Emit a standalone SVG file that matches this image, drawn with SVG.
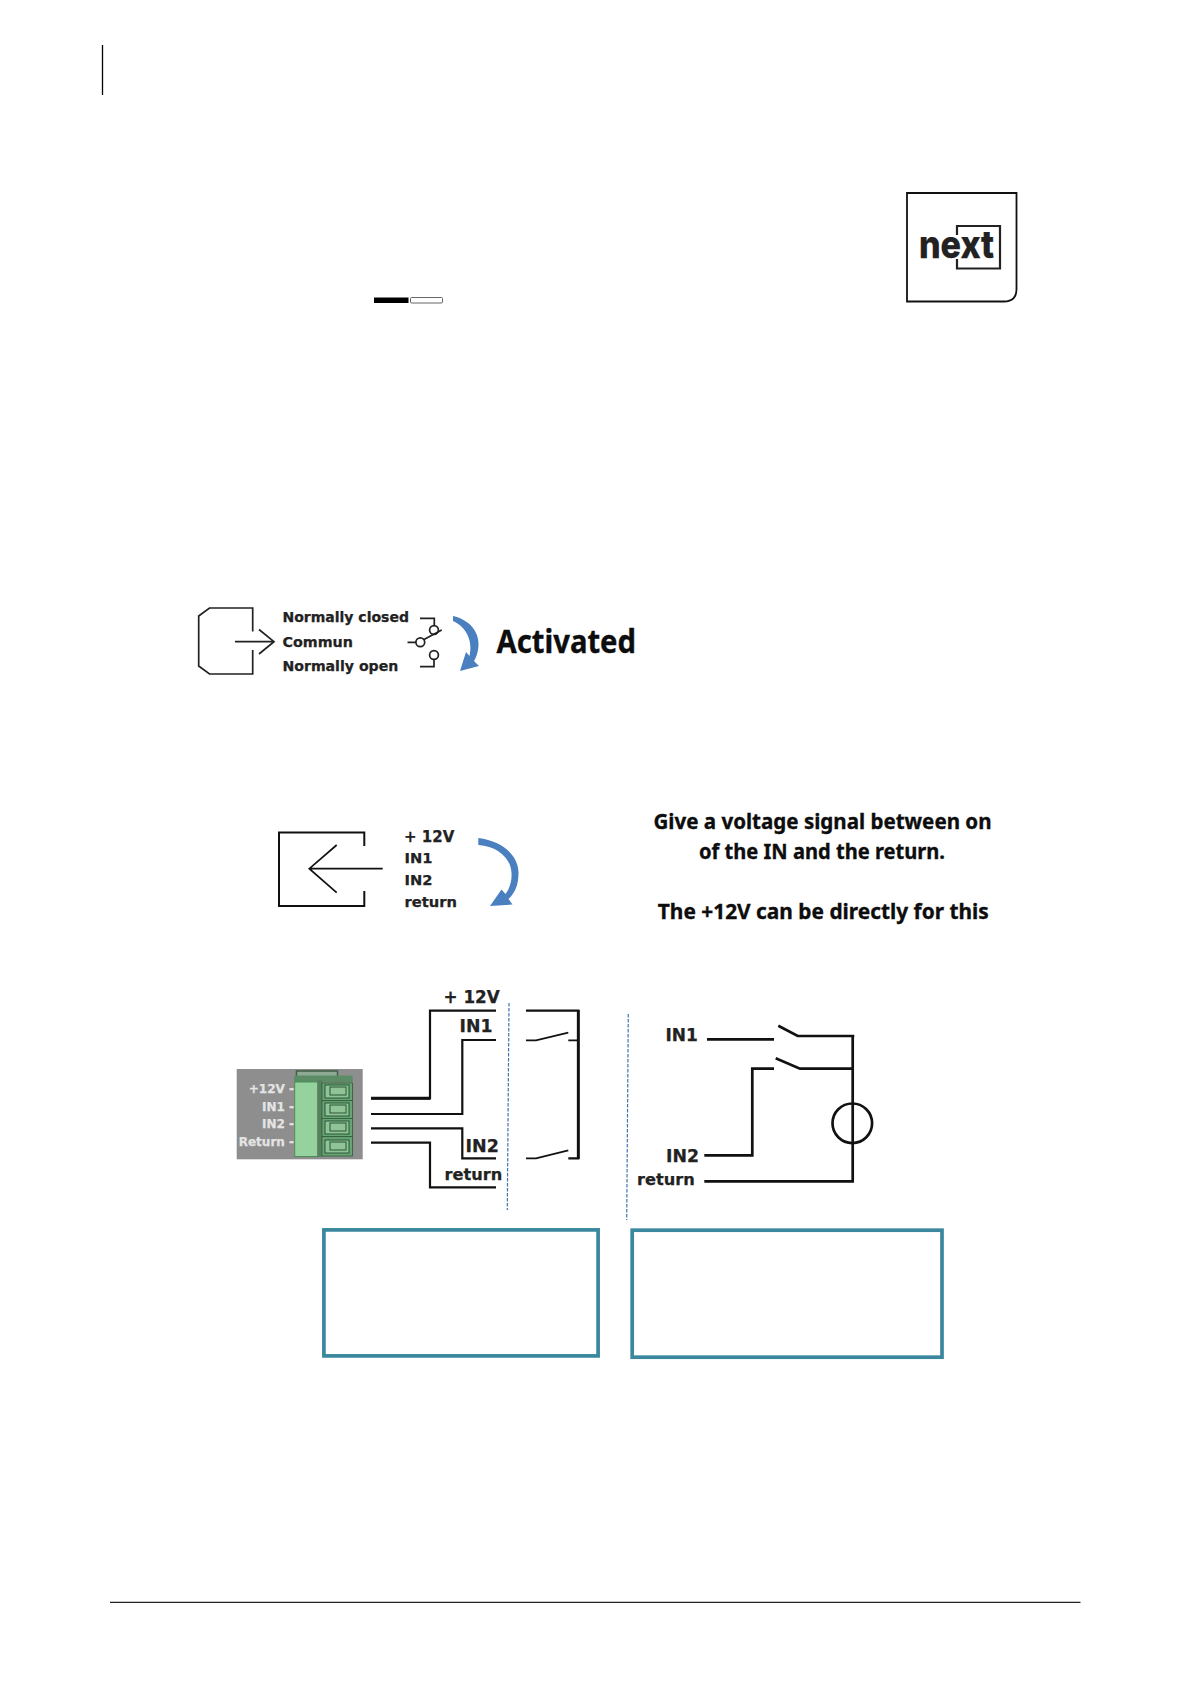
<svg xmlns="http://www.w3.org/2000/svg" width="1191" height="1684" viewBox="0 0 1191 1684">
<style>
text{font-family:"DejaVu Sans",Verdana,sans-serif;font-weight:700;fill:#222;stroke:#222;stroke-width:.25}
.h{font-family:"Noto Sans","Open Sans",sans-serif;fill:#0d0d0d;stroke:#0d0d0d;stroke-width:.35}
.w{fill:none;stroke:#111;stroke-width:2.2;stroke-linejoin:miter}
.t{fill:none;stroke:#222;stroke-width:1.7}
.d{fill:none;stroke:#3f76ad;stroke-width:1.2;stroke-dasharray:3.5 1.5}
.b{fill:#fff;stroke:#3a879e;stroke-width:3.7}
.a{fill:#4a80bf}
.l{fill:#e4e4e4;stroke:#e4e4e4;font-size:12px;text-anchor:end}
.tm{fill:#68a574;stroke:#2e5a38;stroke-width:.8}
.ti{fill:#8fc497;stroke:#2a5434;stroke-width:1}
</style>
<g id="page-marks">
<line x1="102.500" y1="45" x2="102.500" y2="95" stroke="#000" stroke-width="1.300"/>
<line x1="110" y1="1602.400" x2="1080.500" y2="1602.400" stroke="#222" stroke-width="1.200"/>
<rect x="374" y="297.500" width="34.500" height="5.500" fill="#000"/>
<rect x="410.500" y="297.500" width="32" height="5.500" rx="1" fill="#fff" stroke="#666" stroke-width="1"/>
</g>
<g id="logo">
<path d="M907 193H1016.500V289Q1016.500 301.500 1004 301.500H907Z" fill="#fff" stroke="#111" stroke-width="1.800"/>
<path d="M957 235V226H1000V268.500H957V259" fill="none" stroke="#222" stroke-width="2.200"/>
<text x="919" y="257.500" textLength="75" lengthAdjust="spacingAndGlyphs" style="font-family:Inter,'Liberation Sans',sans-serif;font-size:38px;font-weight:800">next</text>
</g>
<g id="relay-symbol">
<path class="t" d="M252.700 631.500V608H209.500L198.700 616V666L209.500 674H252.700V650"/>
<path class="t" d="M235 641.700H274M259 629.500L274 641.700L259 654"/>
<text x="282.500" y="622" font-size="14">Normally closed</text>
<text x="282.500" y="646.500" font-size="14.300">Commun</text>
<text x="282.500" y="670.700" font-size="14.100">Normally open</text>
<path class="t" d="M420 618.300H434.300V625.500M434 659.500V666.700H420M407.500 642.300H416M424 639.500L441.700 630"/>
<circle class="t" cx="434" cy="630" r="4.400"/>
<circle class="t" cx="434" cy="655" r="4.400"/>
<circle class="t" cx="420.300" cy="642.300" r="4.400"/>
</g>
<g id="activated-arrow">
<path class="a" d="M453 616C470 620 479.500 632 478.500 646C478 652 476.500 657 474 661L479 666L460 671L466 652L469.500 656C473 642 467 627 453 621Z"/>
</g>
<g id="activated-label">
<text class="h" x="496.500" y="652.500" font-size="31.500" textLength="139.500" lengthAdjust="spacingAndGlyphs">Activated</text>
</g>
<g id="input-symbol">
<path d="M364.300 846V832.500H279V906H364.300V891" fill="none" stroke="#111" stroke-width="2"/>
<path class="t" d="M382.700 868.700H309.300M336.700 845L309.300 868.700L336.700 892.700" style="stroke:#111"/>
<text x="404" y="841.700" font-size="15">+ 12V</text>
<text x="404.500" y="863.300" font-size="14.700">IN1</text>
<text x="404.500" y="884.500" font-size="14.700">IN2</text>
<text x="404.500" y="906.700" font-size="14.700">return</text>
</g>
<g id="input-arrow">
<path class="a" d="M478.300 838C503 841 518.500 856 518.500 873C518.500 885 515 893 508.500 899L512.500 904.500L490 906L501.500 889.500L505.500 894C510 888 512 880 511.500 873C511 858 497 846 478.300 845Z"/>
</g>
<g id="instructions">
<text class="h" x="822.500" y="829" font-size="22" text-anchor="middle" textLength="338" lengthAdjust="spacingAndGlyphs">Give a voltage signal between on</text>
<text class="h" x="822" y="859" font-size="22" text-anchor="middle" textLength="246" lengthAdjust="spacingAndGlyphs">of the IN and the return.</text>
<text class="h" x="823.300" y="919" font-size="22" text-anchor="middle" textLength="331" lengthAdjust="spacingAndGlyphs">The +12V can be directly for this</text>
</g>
<g id="terminal-block">
<rect x="236.700" y="1069" width="126" height="90.300" fill="#8e8e8e"/>
<path d="M296.500 1076V1071H337.500V1076" fill="#8fa892" stroke="#3e5f45" stroke-width="1.500"/>
<rect x="294" y="1075.500" width="58.700" height="6.500" fill="#5c8c66"/>
<rect x="294.700" y="1082" width="23" height="74.500" fill="#96d29e" stroke="#4a8f55" stroke-width="1"/>
<rect x="317.700" y="1080" width="4.500" height="77" fill="#587f5f"/>
<rect class="tm" x="322" y="1083" width="30.500" height="17.700"/>
<rect class="tm" x="322" y="1100.700" width="30.500" height="17.700"/>
<rect class="tm" x="322" y="1118.400" width="30.500" height="18.300"/>
<rect class="tm" x="322" y="1136.700" width="30.500" height="19.300"/>
<rect class="ti" x="325" y="1085" width="24" height="13"/>
<rect class="ti" x="325" y="1103" width="24" height="13"/>
<rect class="ti" x="325" y="1121" width="24" height="13"/>
<rect class="ti" x="325" y="1140" width="24" height="13"/>
<rect class="ti" x="330" y="1087" width="16" height="8"/>
<rect class="ti" x="330" y="1105" width="16" height="8"/>
<rect class="ti" x="330" y="1123" width="16" height="8"/>
<rect class="ti" x="330" y="1142" width="16" height="8"/>
<text class="l" x="294" y="1093.300">+12V -</text>
<text class="l" x="294" y="1110.700">IN1 -</text>
<text class="l" x="294" y="1128.300">IN2 -</text>
<text class="l" x="294" y="1146">Return -</text>
</g>
<g id="left-labels">
<text x="443.500" y="1003.300" font-size="16.800">+ 12V</text>
<text x="459.500" y="1032.300" font-size="17.300">IN1</text>
<text x="465.500" y="1151.700" font-size="17.500">IN2</text>
<text x="444.500" y="1180" font-size="16.200">return</text>
</g>
<g id="right-labels">
<text x="665.500" y="1040.700" font-size="17">IN1</text>
<text x="666" y="1162.300" font-size="17.300">IN2</text>
<text x="637" y="1185" font-size="16.200">return</text>
</g>
<g id="connectors">
<path class="w" d="M371 1098.300H430V1010.700H496" />
<path d="M371 1098.300H430" fill="none" stroke="#111" stroke-width="3"/>
<path class="w" d="M371 1114H462.300V1040H496"/>
<path class="w" d="M371 1128.300H462.300V1158.300H496"/>
<path class="w" d="M371 1142.700H430V1187.300H496"/>
<path class="w" d="M526 1010.700H578.300V1158.300H568.300"/>
<path d="M578.300 1010V1159" fill="none" stroke="#111" stroke-width="2.900"/>
<path class="t" style="stroke:#111" d="M526 1040.300H536L568.300 1032.700M526 1158.300H536L568.300 1150.300M568.300 1040.300H578.300"/>
<path class="d" d="M509 1003L507.300 1210"/>
<path class="d" d="M628.300 1014L626.700 1220"/>
<path class="w" style="stroke-width:2.700" d="M707 1039.300H774M778.300 1025.700L797.700 1036H854.300M775.700 1058.300L800 1068.700H852.700M774 1068.700H752.300V1155.300H704.300M852.700 1036V1181.300M704.300 1181.300H854"/>
<circle cx="852.300" cy="1123.300" r="19.800" fill="none" stroke="#111" stroke-width="2.700"/>
</g>
<g id="box-left"><rect class="b" x="323.900" y="1229.900" width="274.200" height="126"/></g>
<g id="box-right"><rect class="b" x="632.200" y="1230.200" width="309.800" height="127"/></g>
</svg>
